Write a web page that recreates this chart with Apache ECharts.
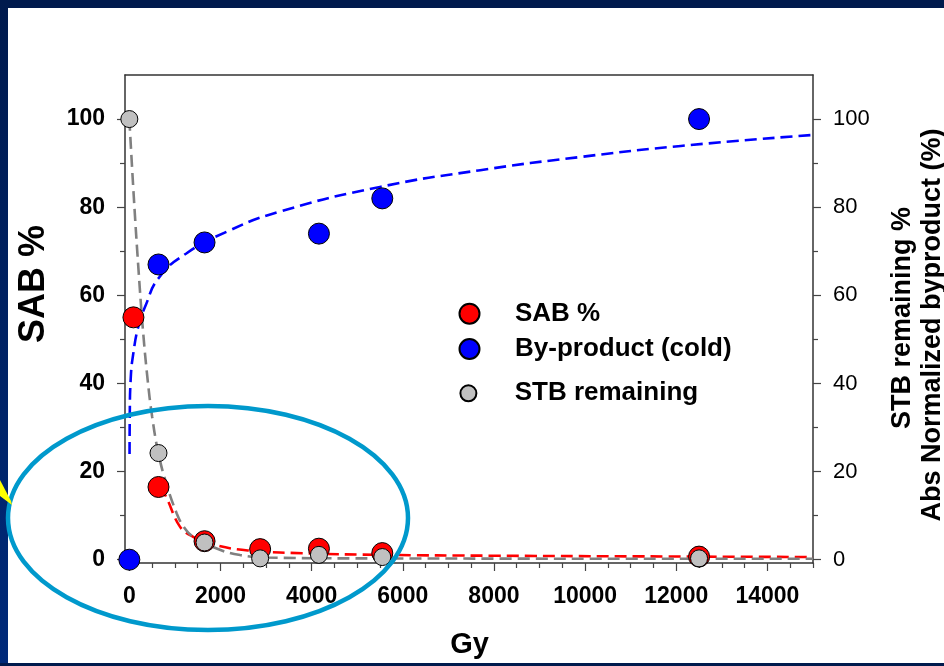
<!DOCTYPE html>
<html><head><meta charset="utf-8">
<script src="https://cdn.jsdelivr.net/npm/echarts@6/dist/echarts.min.js"></script>
<style>html,body{margin:0;padding:0;background:#fff}#c{width:944px;height:666px}</style>
</head><body><div id="c"></div><script>
// ---- data ----
const sabX = [90, 640, 1650, 2870, 4160, 5550, 12500];
const sabY = [55, 16.5, 4.2, 2.4, 2.5, 1.5, 0.7];
const byX = [0, 640, 1650, 4160, 5550, 12500];
const byY = [0, 67, 72, 74, 82, 100];
const stbX = [0, 640, 1650, 2870, 4160, 5550, 12500];
const stbY = [100, 24.2, 3.9, 0.3, 1.1, 0.6, 0.3];
// dashed fit curves
const byFitX = [5, 10, 30, 90, 200, 350, 650, 1250, 2150, 3300, 5500, 7700, 9900, 12100, 15000];
const byFitY = [24, 33, 41, 47, 53, 57.5, 64, 69.5, 74.5, 79, 84.6, 88.4, 91.4, 93.9, 96.4];
const sabFitX = [640, 790, 1110, 1400, 1850, 2600, 4000, 5500, 8000, 12500, 15000];
const sabFitY = [16.5, 14.6, 7.5, 5.2, 3.4, 2.1, 1.4, 1.1, 0.9, 0.7, 0.6];
const stbFitX = [0, 100, 200, 300, 400, 500, 640, 820, 1040, 1190, 1400, 2000, 2430, 3000, 5000, 15000];
const stbFitY = [100, 82, 66, 52, 41, 32.5, 24, 17, 10.5, 7.5, 5.2, 2.2, 1.05, 0.5, 0.3, 0.2];
// tick labels
const xTicks = [0, 2000, 4000, 6000, 8000, 10000, 12000, 14000];
const xMinor = [500, 1000, 1500, 2500, 3000, 3500, 4500, 5000, 5500, 6500, 7000, 7500, 8500, 9000, 9500, 10500, 11000, 11500, 12500, 13000, 13500, 14500, 15000];
const yTicks = [0, 20, 40, 60, 80, 100];
const yMinor = [10, 30, 50, 70, 90];

const FF = "'Liberation Sans', Arial, sans-serif";
const pairs = (xs, ys) => xs.map((x, i) => [x, ys[i]]);
const plain = v => String(v);
const chart = echarts.init(document.getElementById('c'));

const XMIN = -95, XMAX = 15000, YMIN = -0.75, YMAX = 110;
const axLine = { show: true, onZero: false, lineStyle: { color: '#333', width: 1.5 } };
const noLine = { show: false, onZero: false };
const tickStyle = { color: '#444', width: 1.2 };

const option = {
  backgroundColor: '#ffffff',
  animation: false,
  grid: { left: 125, right: 131, top: 75, bottom: 103, containLabel: false },
  xAxis: [
    { type: 'value', min: XMIN, max: XMAX, position: 'bottom', axisLine: axLine,
      axisTick: { show: true, customValues: xTicks, length: 8, lineStyle: tickStyle },
      axisLabel: { customValues: xTicks, formatter: plain, margin: 22, color: '#000', fontSize: 23, fontWeight: 'bold', fontFamily: FF },
      splitLine: { show: false } },
    { type: 'value', min: XMIN, max: XMAX, position: 'bottom', axisLine: noLine,
      axisTick: { show: true, customValues: xMinor, length: 5, lineStyle: tickStyle },
      axisLabel: { show: false }, splitLine: { show: false } },
    { type: 'value', min: XMIN, max: XMAX, position: 'top', axisLine: axLine,
      axisTick: { show: false }, axisLabel: { show: false }, splitLine: { show: false } }
  ],
  yAxis: [
    { type: 'value', min: YMIN, max: YMAX, position: 'left', axisLine: axLine,
      axisTick: { show: true, customValues: yTicks, length: 8, lineStyle: tickStyle },
      axisLabel: { customValues: yTicks, formatter: plain, margin: 20, color: '#000', fontSize: 23, fontWeight: 'bold', fontFamily: FF },
      splitLine: { show: false } },
    { type: 'value', min: YMIN, max: YMAX, position: 'right', axisLine: axLine,
      axisTick: { show: true, customValues: yTicks, length: 8, lineStyle: tickStyle },
      axisLabel: { customValues: yTicks, formatter: plain, margin: 20, color: '#000', fontSize: 22, fontFamily: FF },
      splitLine: { show: false } },
    { type: 'value', min: YMIN, max: YMAX, position: 'left', axisLine: noLine,
      axisTick: { show: true, customValues: yMinor, length: 5, lineStyle: tickStyle },
      axisLabel: { show: false }, splitLine: { show: false } },
    { type: 'value', min: YMIN, max: YMAX, position: 'right', axisLine: noLine,
      axisTick: { show: true, customValues: yMinor, length: 5, lineStyle: tickStyle },
      axisLabel: { show: false }, splitLine: { show: false } }
  ],
  legend: [
    { data: ['SAB %'], left: 458.5, top: 300.7, padding: 0, itemWidth: 81, itemHeight: 20,
      textStyle: { fontSize: 26, fontWeight: 'bold', color: '#000', fontFamily: FF } },
    { data: ['By-product (cold)'], left: 458.5, top: 336, padding: 0, itemWidth: 81, itemHeight: 20,
      textStyle: { fontSize: 26, fontWeight: 'bold', color: '#000', fontFamily: FF } },
    { data: ['STB remaining'], left: 459.4, top: 380.3, padding: 0, itemWidth: 82.6, itemHeight: 16,
      textStyle: { fontSize: 26, fontWeight: 'bold', color: '#000', fontFamily: FF } }
  ],
  series: [
    { name: 'By-product fit', type: 'line', data: pairs(byFitX, byFitY), showSymbol: false, smooth: 0.5,
      lineStyle: { color: '#0000ff', width: 2.6, type: [12, 6] }, z: 2, silent: true },
    { name: 'SAB fit', type: 'line', data: pairs(sabFitX, sabFitY), showSymbol: false, smooth: 0.4,
      lineStyle: { color: '#ff0000', width: 2.6, type: [12, 6] }, z: 2, silent: true },
    { name: 'STB fit', type: 'line', data: pairs(stbFitX, stbFitY), showSymbol: false, smooth: 0.4,
      lineStyle: { color: '#808080', width: 2.6, type: [12, 6] }, z: 2, silent: true },
    { name: 'By-product (cold)', type: 'scatter', data: pairs(byX, byY), symbol: 'circle', symbolSize: 21,
      itemStyle: { color: '#0000ff', borderColor: '#000', borderWidth: 1, opacity: 1 }, z: 3 },
    { name: 'SAB %', type: 'scatter', data: pairs(sabX, sabY), symbol: 'circle', symbolSize: 21,
      itemStyle: { color: '#ff0000', borderColor: '#000', borderWidth: 1, opacity: 1 }, z: 3 },
    { name: 'STB remaining', type: 'scatter', data: pairs(stbX, stbY), symbol: 'circle', symbolSize: 17,
      itemStyle: { color: '#c0c0c0', borderColor: '#000', borderWidth: 1, opacity: 1 }, z: 3 }
  ],
  graphic: [
    { type: 'rect', shape: { x: 0, y: 0, width: 944, height: 8 }, style: { fill: '#001a4d' }, z: 50 },
    { type: 'rect', shape: { x: 0, y: 0, width: 8, height: 666 },
      style: { fill: new echarts.graphic.LinearGradient(0, 0, 0, 1, [{ offset: 0, color: '#001a4d' }, { offset: 1, color: '#002a7a' }]) }, z: 50 },
    { type: 'rect', shape: { x: 0, y: 663, width: 944, height: 3 }, style: { fill: '#001a4d' }, z: 50 },
    { type: 'polygon', shape: { points: [[0, 480], [11, 501], [12, 505], [0, 496]] }, style: { fill: '#ffff00' }, z: 60 },
    { type: 'ellipse', shape: { cx: 208, cy: 518, rx: 200, ry: 112 }, style: { fill: 'none', stroke: '#0099cc', lineWidth: 4.5 }, z: 55 },
    { type: 'text', x: 34, y: 284, rotation: Math.PI / 2,
      style: { text: 'SAB %', font: "bold 36px 'Liberation Sans', Arial, sans-serif", fill: '#000', align: 'center', verticalAlign: 'middle' }, z: 40 },
    { type: 'text', x: 469.5, y: 645,
      style: { text: 'Gy', font: "bold 29px 'Liberation Sans', Arial, sans-serif", fill: '#000', align: 'center', verticalAlign: 'middle' }, z: 40 },
    { type: 'text', x: 903, y: 318, rotation: Math.PI / 2,
      style: { text: 'STB remaining %', font: "bold 27px 'Liberation Sans', Arial, sans-serif", fill: '#000', align: 'center', verticalAlign: 'middle' }, z: 40 },
    { type: 'text', x: 933, y: 325, rotation: Math.PI / 2,
      style: { text: 'Abs Normalized byproduct (%)', font: "bold 27px 'Liberation Sans', Arial, sans-serif", fill: '#000', align: 'center', verticalAlign: 'middle' }, z: 40 }
  ]
};
chart.setOption(option);
</script></body></html>
